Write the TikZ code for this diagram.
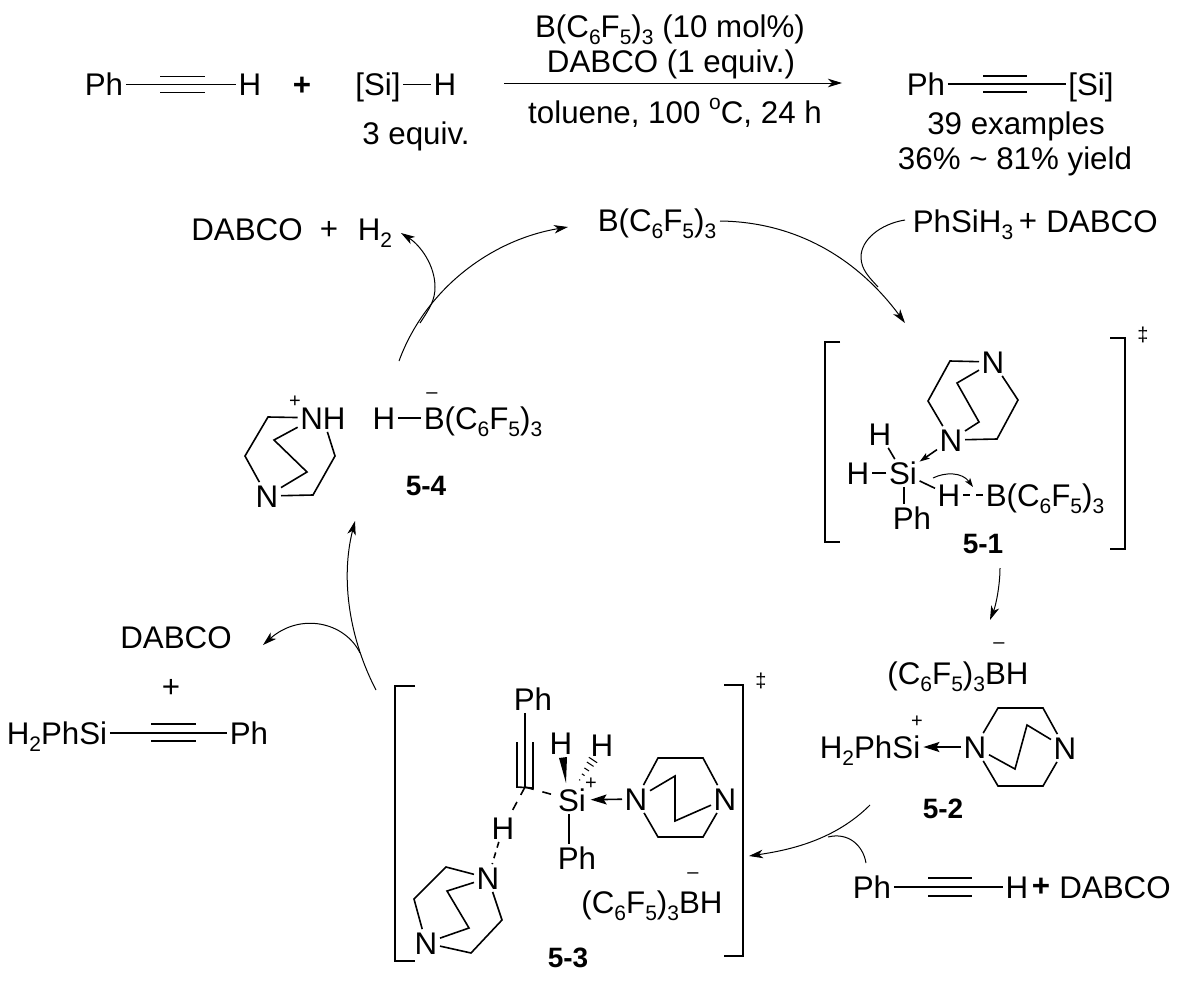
\documentclass[tikz,border=0pt]{standalone}
\usepackage{fontspec}
\setmainfont{Liberation Sans}
\usetikzlibrary{arrows.meta,calc}
\newcommand{\lowsub}[1]{\raisebox{-.22em}{\fontsize{21}{21}\selectfont #1}}
\newcommand{\BCF}{(C\lowsub{6}F\lowsub{5})\lowsub{3}}
\tikzset{
  txt/.style={inner sep=0pt,font=\fontsize{31.3}{33}\selectfont,text height=22.4pt,text depth=0pt},
  atom/.style={txt,inner sep=2.5pt},
  lbl/.style={inner sep=0pt,font=\fontsize{28}{30}\bfseries\selectfont,text height=20pt,text depth=0pt},
  chg/.style={inner sep=0pt,font=\fontsize{20}{20}\selectfont},
  bond/.style={line width=1.6pt,line join=miter},
  brk/.style={line width=1.8pt,line join=miter},
  dbond/.style={line width=1.6pt,dash pattern=on 7pt off 6pt},
  arr/.style={line width=1pt,-{Stealth[length=14pt,width=8.5pt,inset=4pt]}},
  curve line/.style={line width=1pt},
  dat/.style={line width=1.6pt,-{Stealth[length=16pt,width=10pt,inset=3pt]}},
  dats/.style={line width=1.6pt,-{Stealth[length=10pt,width=6.5pt,inset=2pt]}}
}
\begin{document}
\begin{tikzpicture}[x=1pt,y=-1pt]
\useasboundingbox[fill=white] (0,0) rectangle (1181,985);

% ---- top equation
\node[atom] (tPh) at (104,84.5) {Ph};
\node[atom] (tH) at (250,84.5) {H};
\draw[bond] (tPh) -- (tH);
\coordinate (ta1) at (160,76.5); \coordinate (ta2) at (205,76.5);
\coordinate (ta3) at (160,92.5); \coordinate (ta4) at (205,92.5);
\draw[bond] (ta1) -- (ta2); \draw[bond] (ta3) -- (ta4);
\node[txt] (tplus) at (302,84) {\textbf{+}};
\node[atom] (tSi) at (378,84.5) {[Si]};
\node[atom] (tSiH) at (445,84.5) {H};
\draw[bond] (tSi) -- (tSiH);
\node[txt] (t3eq) at (416,133) {3 equiv.};
\coordinate (rs) at (504,83); \coordinate (re) at (842,83);
\draw[arr] (rs) -- (re);
\node[txt] (rc1) at (670,26) {B\BCF{} (10 mol\%)};
\node[txt] (rc2) at (671,61) {DABCO (1 equiv.)};
\node[txt] (rc3) at (675,112) {toluene, 100 \raisebox{.45em}{\fontsize{21}{21}\selectfont o}C, 24 h};
\node[atom] (pPh) at (926,84) {Ph};
\node[atom] (pSi) at (1091,84) {[Si]};
\draw[bond] (pPh) -- (pSi);
\coordinate (pa1) at (983,76); \coordinate (pa2) at (1027,76);
\coordinate (pa3) at (983,92); \coordinate (pa4) at (1027,92);
\draw[bond] (pa1) -- (pa2); \draw[bond] (pa3) -- (pa4);
\node[txt] (p39) at (1016,123) {39 examples};
\node[txt] (pyd) at (1015,158) {36\% \textasciitilde{} 81\% yield};

% ---- cycle head
\node[txt] (cB) at (657,220) {B\BCF};
\node[txt] (cD) at (247,229) {DABCO};
\node[txt] (cplus) at (329,228) {+};
\node[txt] (cH2) at (375,229) {H\lowsub{2}};
\node[txt] (cPhS) at (963,221) {PhSiH\lowsub{3}};
\node[txt] (cplusb) at (1028,220) {+};
\node[txt] (cpD) at (1102,221) {DABCO};

\coordinate (a1s) at (720,221); \coordinate (a1e) at (905,323);
\draw[arr] (a1s) .. controls (800,222) and (860,262) .. (a1e);
\coordinate (b1s) at (905,220); \coordinate (b1m) at (861,257); \coordinate (b1e) at (878,287);
\draw[curve line] (b1s) .. controls (880,224) and (861,240) .. (b1m) .. controls (861,270) and (870,278) .. (b1e);
\coordinate (a4s) at (399,361); \coordinate (a4e) at (568,227);
\draw[arr] (a4s) .. controls (425,290) and (490,240) .. (a4e);
\coordinate (b4s) at (420,323); \coordinate (b4m) at (435,287); \coordinate (b4e) at (401,233);
\draw[arr] (b4s) .. controls (430,308) and (435,300) .. (b4m) .. controls (435,265) and (420,245) .. (b4e);

% ---- 5-1
\coordinate (bl1) at (840,342); \coordinate (bl2) at (825,342);
\coordinate (bl3) at (825,542); \coordinate (bl4) at (840,542);
\draw[brk] (bl1) -- (bl2) -- (bl3) -- (bl4);
\coordinate (br1) at (1110,338); \coordinate (br2) at (1125,338);
\coordinate (br3) at (1125,549); \coordinate (br4) at (1110,549);
\draw[brk] (br1) -- (br2) -- (br3) -- (br4);
\node[chg] (dg1) at (1143,335) {‡};
\node[atom] (m1N1) at (993,362) {N};
\node[atom] (m1N2) at (951,440) {N};
\coordinate (m1a) at (950,361); \coordinate (m1b) at (928,401);
\coordinate (m1c) at (957,383); \coordinate (m1d) at (979,422);
\coordinate (m1e) at (1018,400); \coordinate (m1f) at (997,439);
\draw[bond] (m1N1) -- (m1a) -- (m1b) -- (m1N2);
\draw[bond] (m1N1) -- (m1c) -- (m1d) -- (m1N2);
\draw[bond] (m1N1) -- (m1e) -- (m1f) -- (m1N2);
\node[atom] (m1Si) at (903,473) {Si};
\node[atom] (m1Ht) at (880,434) {H};
\node[atom] (m1Hl) at (858,473) {H};
\node[atom] (m1Ph) at (912,518) {Ph};
\node[atom] (m1H) at (949,495) {H};
\node[atom] (m1B) at (1045,495) {B\BCF};
\draw[bond] (m1Si) -- (m1Ht);
\draw[bond] (m1Si) -- (m1Hl);
\draw[bond] (m1Si.south -| 904,0) -- (m1Ph.north -| 904,0);
\draw[bond] (m1Si) -- (m1H);
\draw[dbond] (m1H) -- (m1B);
\draw[dats] (m1N2) -- (m1Si);
\coordinate (m1cs) at (933,478); \coordinate (m1ce) at (973,487);
\draw[line width=1pt,-{Stealth[length=9pt,width=6pt,inset=2pt]}] (m1cs) .. controls (945,472) and (962,472) .. (m1ce);
\node[lbl] (l1) at (983,543) {5-1};

% ---- arrow to 5-2
\coordinate (a2s) at (1000,568); \coordinate (a2e) at (990,620);
\draw[arr] (a2s) .. controls (1000,585) and (996,605) .. (a2e);

% ---- 5-2
\node[txt] (m2B) at (958,673) {\BCF BH};
\node[chg] (m2m) at (999,646) {--};
\node[txt] (m2Si) at (870,747) {H\lowsub{2}PhSi};
\node[chg] (m2p) at (917,722) {+};
\node[atom] (m2N1) at (975,747) {N};
\node[atom] (m2N2) at (1065,748) {N};
\coordinate (m2a) at (998,708); \coordinate (m2b) at (1043,708);
\coordinate (m2c) at (998,786); \coordinate (m2d) at (1043,786);
\coordinate (m2e) at (1015,769); \coordinate (m2f) at (1027,725);
\draw[bond] (m2N1) -- (m2a) -- (m2b) -- (m2N2);
\draw[bond] (m2N1) -- (m2c) -- (m2d) -- (m2N2);
\draw[bond] (m2N1) -- (m2e) -- (m2f) -- (m2N2);
\draw[dat,shorten >=3pt] (m2N1) -- (m2Si);
\node[lbl] (l2) at (943,808) {5-2};

% ---- arrow to 5-3
\coordinate (a3s) at (870,805); \coordinate (a3e) at (749,856);
\draw[arr] (a3s) .. controls (835,840) and (790,850) .. (a3e);
\node[atom] (aPh) at (872,887) {Ph};
\node[atom] (aH) at (1017,887) {H};
\draw[bond] (aPh) -- (aH);
\coordinate (aa1) at (928,878); \coordinate (aa2) at (972,878);
\coordinate (aa3) at (928,896); \coordinate (aa4) at (972,896);
\draw[bond] (aa1) -- (aa2); \draw[bond] (aa3) -- (aa4);
\node[txt] (aplus) at (1041,885) {\textbf{+}};
\node[txt] (aD) at (1115,887) {DABCO};
\coordinate (b3s) at (866,863); \coordinate (b3e) at (828,837);
\draw[curve line] (b3s) .. controls (863,845) and (848,832) .. (b3e);

% ---- 5-3
\coordinate (cl1) at (415,686); \coordinate (cl2) at (395,686);
\coordinate (cl3) at (395,961); \coordinate (cl4) at (415,961);
\draw[brk] (cl1) -- (cl2) -- (cl3) -- (cl4);
\coordinate (cr1) at (724,685); \coordinate (cr2) at (743,685);
\coordinate (cr3) at (743,956); \coordinate (cr4) at (724,956);
\draw[brk] (cr1) -- (cr2) -- (cr3) -- (cr4);
\node[chg] (dg3) at (761,681) {‡};
\node[atom] (m3Pht) at (533,699) {Ph};
\coordinate (alk) at (525,787);
\draw[bond] (m3Pht.south -| alk) -- (alk);
\coordinate (al1) at (517,742); \coordinate (al2) at (517,787);
\coordinate (al3) at (533,742); \coordinate (al4) at (533,788);
\draw[bond] (al1) -- (al2) -- (al4) -- (al3);
\node[atom] (m3Si) at (572,800) {Si};
\draw[line width=1.6pt,dash pattern=on 9pt off 9pt] (alk) -- (m3Si);
\node[atom] (m3H) at (503,828) {H};
\draw[line width=1.6pt,dash pattern=on 9pt off 8pt] (alk) -- (m3H);
\node[atom] (m3N) at (488,878) {N};
\draw[line width=1.6pt,dash pattern=on 6pt off 5pt] (m3H) -- (m3N);
\node[atom] (m3Nb) at (426,943) {N};
\coordinate (m3a) at (446,867); \coordinate (m3b) at (414,899);
\coordinate (m3c) at (447,891); \coordinate (m3d) at (469,928);
\coordinate (m3e) at (502,920); \coordinate (m3f) at (471,953);
\draw[bond] (m3N) -- (m3a) -- (m3b) -- (m3Nb);
\draw[bond] (m3N) -- (m3c) -- (m3d) -- (m3Nb);
\draw[bond] (m3N) -- (m3e) -- (m3f) -- (m3Nb);
\node[chg] (m3p) at (591,784) {+};
\node[atom] (m3H1) at (561,743) {H};
\node[atom] (m3H2) at (602,745) {H};
\fill (566,783) -- (559,758) -- (567,757) -- cycle;
\coordinate (hs) at (579,781); \coordinate (he) at (593,760);
\foreach \t/\w in {0.05/0.6,0.3/1.6,0.55/2.8,0.8/4,1/5}{
  \draw[line width=1pt] ($(hs)!\t!(he)+(-\w*.83,-\w*.55)$) -- ($(hs)!\t!(he)+(\w*.83,\w*.55)$);
}
\node[atom] (m3N1) at (636,799) {N};
\node[atom] (m3N2) at (725,799) {N};
\coordinate (m3g) at (658,758); \coordinate (m3h) at (703,758);
\coordinate (m3i) at (658,837); \coordinate (m3j) at (703,837);
\coordinate (m3k) at (675,776); \coordinate (m3l) at (675,821);
\draw[bond] (m3N1) -- (m3g) -- (m3h) -- (m3N2);
\draw[bond] (m3N1) -- (m3i) -- (m3j) -- (m3N2);
\draw[bond] (m3N1) -- (m3k) -- (m3l) -- (m3N2);
\draw[dat,shorten >=2pt] (m3N1) -- (m3Si);
\node[atom] (m3Phb) at (577,858) {Ph};
\draw[bond] (m3Si.south -| 569,0) -- (m3Phb.north -| 569,0);
\node[txt] (m3B) at (652,902) {\BCF BH};
\node[chg] (m3m) at (693,876) {--};
\node[lbl] (l3) at (568,957) {5-3};

% ---- products of 5-3
\coordinate (a5s) at (376,690); \coordinate (a5e) at (355,521);
\draw[arr] (a5s) .. controls (350,640) and (340,580) .. (a5e);
\coordinate (b5s) at (360,653); \coordinate (b5e) at (263,645);
\draw[arr] (b5s) .. controls (345,622) and (300,612) .. (b5e);
\node[txt] (eD) at (176,637) {DABCO};
\node[txt] (eplus) at (171,686) {+};
\node[atom] (eSi) at (57,733) {H\lowsub{2}PhSi};
\node[atom] (ePh) at (249,733) {Ph};
\draw[bond] (eSi) -- (ePh);
\coordinate (ea1) at (151,724); \coordinate (ea2) at (196,724);
\coordinate (ea3) at (151,741); \coordinate (ea4) at (196,741);
\draw[bond] (ea1) -- (ea2); \draw[bond] (ea3) -- (ea4);

% ---- 5-4
\node[atom] (m4N1) at (323,418) {NH};
\node[chg] (m4p) at (295,402) {+};
\node[atom] (m4N2) at (267,496) {N};
\coordinate (m4a) at (268,417); \coordinate (m4b) at (245,456);
\coordinate (m4c) at (274,440); \coordinate (m4d) at (307,472);
\coordinate (m4e) at (335,456); \coordinate (m4f) at (313,495);
\draw[bond] (m4N1) -- (m4a) -- (m4b) -- (m4N2);
\draw[bond] (m4N1.200) -- (m4c) -- (m4d) -- (m4N2);
\draw[bond] (m4N1) -- (m4e) -- (m4f) -- (m4N2);
\node[atom] (m4H) at (384,418) {H};
\node[atom] (m4B) at (483,418) {B\BCF};
\draw[bond] (m4H) -- (m4B);
\node[chg] (m4m) at (432,396) {--};
\node[lbl] (l4) at (426,485) {5-4};
\end{tikzpicture}
\end{document}
